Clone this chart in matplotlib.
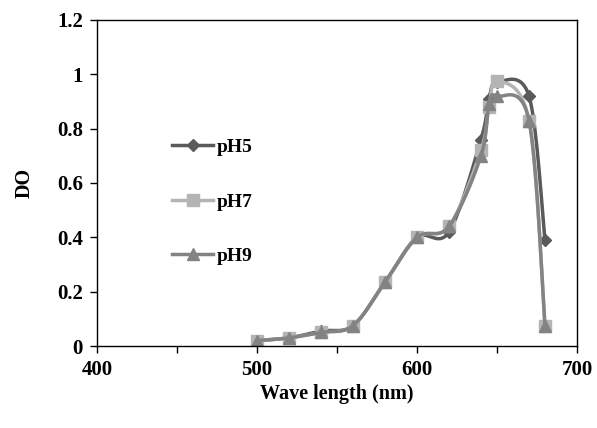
import numpy as np
import matplotlib
matplotlib.use("Agg")
import matplotlib.pyplot as plt
from matplotlib.ticker import MultipleLocator, FormatStrFormatter

wavelength = [500, 520, 540, 560, 580, 600, 620, 640, 645, 650, 670, 680]
ph5 = [0.02, 0.03, 0.055, 0.075, 0.235, 0.40, 0.42, 0.76, 0.91, 0.97, 0.92, 0.39]
ph7 = [0.02, 0.03, 0.05, 0.075, 0.235, 0.40, 0.44, 0.72, 0.88, 0.975, 0.83, 0.075]
ph9 = [0.02, 0.03, 0.05, 0.075, 0.235, 0.40, 0.44, 0.70, 0.89, 0.92, 0.83, 0.075]

plt.rcParams['font.family'] = ['Liberation Serif', 'DejaVu Serif']
plt.rcParams['font.weight'] = 'bold'


def smooth(x, y, n=20):
    # Catmull-Rom style curve through the points (like Excel smoothed lines)
    x = np.asarray(x, float)
    y = np.asarray(y, float)
    px = np.concatenate([[x[0]], x, [x[-1]]])
    py = np.concatenate([[y[0]], y, [y[-1]]])
    xs, ys = [], []
    t = np.linspace(0, 1, n)
    for i in range(1, len(px) - 2):
        p0, p1, p2, p3 = (np.array([px[j], py[j]]) for j in range(i - 1, i + 3))
        c1 = p1 + (p2 - p0) / 6
        c2 = p2 - (p3 - p1) / 6
        b = ((1 - t) ** 3)[:, None] * p1 + (3 * (1 - t) ** 2 * t)[:, None] * c1 \
            + (3 * (1 - t) * t ** 2)[:, None] * c2 + (t ** 3)[:, None] * p2
        xs.extend(b[:, 0])
        ys.extend(b[:, 1])
    return xs, ys


fig = plt.figure(figsize=(5.97, 4.28), dpi=100)
ax = fig.add_axes([97 / 597, 82 / 428, 480 / 597, 326 / 428])

series = [
    ('pH5', ph5, '#5a5a5a', 'D', 6),
    ('pH7', ph7, '#b4b4b4', 's', 8),
    ('pH9', ph9, '#838383', '^', 8),
]
handles = []
for name, vals, col, mk, ms in series:
    sx, sy = smooth(wavelength, vals)
    ax.plot(sx, sy, color=col, lw=2.5)
    ax.plot(wavelength, vals, ls='none', marker=mk, ms=ms, color=col)
    h, = ax.plot([], [], color=col, lw=2.5, marker=mk, ms=ms)
    handles.append(h)

ax.set_xlim(400, 700)
ax.set_ylim(0, 1.2)
ax.xaxis.set_major_locator(MultipleLocator(100))
ax.xaxis.set_minor_locator(MultipleLocator(50))
ax.yaxis.set_major_locator(MultipleLocator(0.2))
ax.yaxis.set_major_formatter(FormatStrFormatter('%g'))
ax.tick_params(direction='out', length=5, width=1, labelsize=15, pad=5)
ax.tick_params(which='minor', direction='out', length=5, width=1)
for s in ax.spines.values():
    s.set_linewidth(1)

ax.set_xlabel('Wave length (nm)', fontsize=14.5, fontweight='bold', labelpad=3)
ax.set_ylabel('DO', fontsize=14.5, fontweight='bold', labelpad=16)

ax.legend(handles, ['pH5', 'pH7', 'pH9'], loc='upper left', bbox_to_anchor=(0.12, 0.69),
          frameon=False, fontsize=14, handlelength=2.1, labelspacing=1.9,
          handletextpad=0.2)

fig.savefig('out.png', dpi=100)
